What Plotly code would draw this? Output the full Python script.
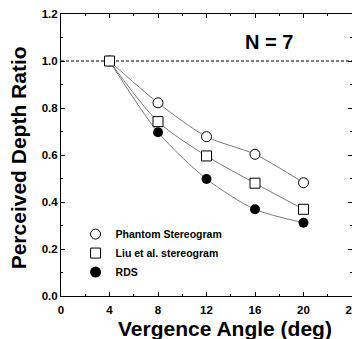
import plotly.graph_objects as go

# Data
vergence = [4, 8, 12, 16, 20]
phantom = [1.0, 0.822, 0.678, 0.603, 0.482]
liu = [1.0, 0.742, 0.596, 0.480, 0.369]
rds = [1.0, 0.697, 0.498, 0.369, 0.312]
series_names = ["Phantom Stereogram", "Liu et al. stereogram", "RDS"]
reference_ratio = 1.0
annotation_text = "N = 7"
x_title = "Vergence Angle (deg)"
y_title = "Perceived Depth Ratio"
x_ticks = [0, 4, 8, 12, 16, 20, 24]
y_ticks = [0.0, 0.2, 0.4, 0.6, 0.8, 1.0, 1.2]

FONT = "Liberation Sans, Arial, Helvetica, sans-serif"
LINE_COLOR = "#7a7a7a"

fig = go.Figure()

styles = [
    (phantom, dict(symbol="circle", size=10, color="white", line=dict(width=1, color="black"))),
    (rds, dict(symbol="circle", size=10, color="black", line=dict(width=0))),
    (liu, dict(symbol="square", size=10, color="white", line=dict(width=1, color="black"))),
]
for ys, mk in styles:
    fig.add_trace(go.Scatter(
        x=vergence, y=ys, mode="lines+markers",
        line=dict(color=LINE_COLOR, width=1, shape="spline", smoothing=0.8),
        marker=mk, showlegend=False, cliponaxis=False,
    ))

# Legend-only traces
legend_markers = [
    dict(symbol="circle-open", size=10, color="black", line=dict(width=1)),
    dict(symbol="square-open", size=10, color="black", line=dict(width=1)),
    dict(symbol="circle", size=11, color="black"),
]
for name, mk in zip(series_names, legend_markers):
    fig.add_trace(go.Scatter(x=[None], y=[None], mode="markers", name=name, marker=mk))

fig.add_shape(type="line", xref="paper", x0=0, x1=1, yref="y",
              y0=reference_ratio, y1=reference_ratio,
              line=dict(color="black", width=1, dash="3px,2px"), layer="below")

fig.add_annotation(text=annotation_text, xref="paper", yref="paper", x=0.715, y=0.90,
                   xanchor="center", yanchor="middle",
                   showarrow=False, font=dict(family=FONT, size=20, color="black", weight="bold"))
fig.add_annotation(text=x_title, xref="paper", yref="paper", x=0.563, y=-0.117,
                   xanchor="center", yanchor="middle",
                   showarrow=False, font=dict(family=FONT, size=21, color="black", weight="bold"))
fig.add_annotation(text=y_title, xref="paper", yref="paper", x=-0.147, y=0.489,
                   xanchor="center", yanchor="middle", textangle=-90,
                   showarrow=False, font=dict(family=FONT, size=21, color="black", weight="bold"))

axis_common = dict(
    showline=True, linecolor="black", linewidth=1, mirror="ticks",
    ticks="inside", ticklen=4, tickwidth=1, tickcolor="black",
    showgrid=False, zeroline=False, automargin=False, ticklabeloverflow="allow",
    tickfont=dict(family=FONT, size=11.5, color="black", weight="bold"),
)

fig.update_xaxes(range=[0, 24], tickvals=x_ticks, ticklabelstandoff=3,
                 minor=dict(dtick=2, ticks="inside", ticklen=2, tickcolor="black", showgrid=False),
                 **axis_common)
fig.update_yaxes(range=[0, 1.2], tickvals=y_ticks, tickformat=".1f",
                 minor=dict(dtick=0.1, ticks="inside", ticklen=2, tickcolor="black", showgrid=False),
                 **axis_common)

# The page body has an 8px margin, so the figure is sized and offset to compensate.
fig.update_layout(
    width=352, height=331,
    margin=dict(l=53, r=8, t=6, b=43),
    plot_bgcolor="white", paper_bgcolor="white",
    font=dict(family=FONT, color="black"),
    legend=dict(x=0.05, y=0.271, xanchor="left", yanchor="top",
                bgcolor="rgba(0,0,0,0)", borderwidth=0,
                font=dict(family=FONT, size=10.5, color="black", weight="bold"),
                itemwidth=30, tracegroupgap=0),
)

fig.write_html("out.html")
